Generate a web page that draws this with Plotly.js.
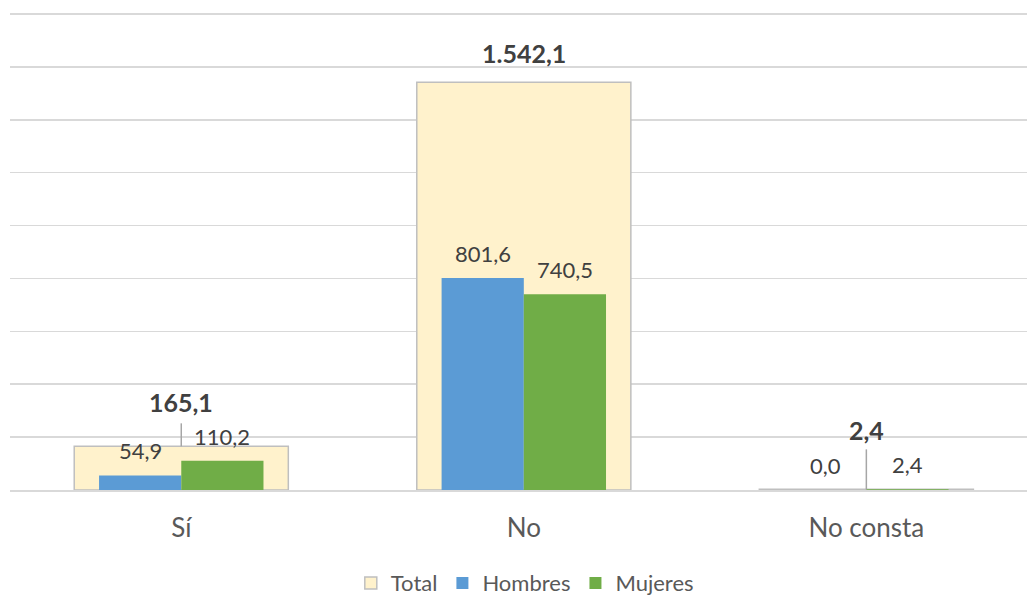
<!DOCTYPE html>
<html>
<head>
<meta charset="utf-8">
<script src="https://cdn.plot.ly/plotly-3.0.1.min.js"></script>
<style>html,body{margin:0;padding:0;background:#fff;}#chart{width:1027px;height:595px;}</style>
</head>
<body>
<div id="chart"></div>
<script>
// Data
const categories = ["Sí", "No", "No consta"];
const total = [165.1, 1542.1, 2.4];
const hombres = [54.9, 801.6, 0.0];
const mujeres = [110.2, 740.5, 2.4];

// Styles (label offsets in pixels, leader line lengths)
const totalLabelShift = [27, 12, 42];
const leaderLen = [23, 0, 40];
const FONT = "Lato, 'Noto Sans', sans-serif";

function fmt(v) {
  const parts = v.toFixed(1).split(".");
  const intPart = parts[0].replace(/\B(?=(\d{3})+(?!\d))/g, ".");
  return intPart + "," + parts[1];
}

const BW_T = 0.625, BW = 0.24;

const traces = [
  {type: "bar", name: "Total", x: categories, y: total, width: BW_T, offset: -BW_T/2,
   marker: {color: "#fff2cc", line: {color: "#bfbfbf", width: 1.5}}, hoverinfo: "skip"},
  {type: "bar", name: "Hombres", x: categories, y: hombres, width: BW, offset: -BW,
   marker: {color: "#5b9bd5", line: {width: 0}}, hoverinfo: "skip"},
  {type: "bar", name: "Mujeres", x: categories, y: mujeres, width: BW, offset: 0,
   marker: {color: "#70ad47", line: {width: 0}}, hoverinfo: "skip"}
];

const annotations = [];
const shapes = [];
categories.forEach((c, i) => {
  annotations.push({x: i, y: total[i], xref: "x", yref: "y", text: "<b>" + fmt(total[i]) + "</b>",
    showarrow: false, yanchor: "bottom", yshift: totalLabelShift[i],
    font: {family: FONT, size: 25, color: "#404040"}});
  annotations.push({x: i - BW/2, y: hombres[i], xref: "x", yref: "y", text: fmt(hombres[i]),
    showarrow: false, yanchor: "bottom", yshift: 9,
    font: {family: FONT, size: 22, color: "#404040"}});
  annotations.push({x: i + BW/2, y: mujeres[i], xref: "x", yref: "y", text: fmt(mujeres[i]),
    showarrow: false, yanchor: "bottom", yshift: 9,
    font: {family: FONT, size: 22, color: "#404040"}});
  if (leaderLen[i] > 0) {
    shapes.push({type: "line", xref: "x", yref: "y", x0: i, x1: i,
      ysizemode: "pixel", yanchor: total[i], y0: 0, y1: leaderLen[i],
      line: {color: "#a6a6a6", width: 1.5}});
  }
});

const layout = {
  width: 1027, height: 595,
  margin: {l: 10, r: 0, t: 10, b: 105, autoexpand: false},
  paper_bgcolor: "#ffffff", plot_bgcolor: "#ffffff",
  barmode: "overlay",
  showlegend: true,
  legend: {orientation: "h", x: 0.511, xanchor: "center", xref: "container",
    y: 0.02, yanchor: "middle", yref: "container",
    font: {family: FONT, size: 22, color: "#595959"}, traceorder: "normal",
    itemwidth: 30},
  xaxis: {type: "category", range: [-0.5, 2.469], showgrid: false, zeroline: false,
    showline: true, linecolor: "#d9d9d9", linewidth: 1.5, automargin: false,
    ticks: "outside", ticklen: 14, tickcolor: "rgba(0,0,0,0)",
    tickfont: {family: FONT, size: 26, color: "#595959"}, fixedrange: true},
  yaxis: {range: [0, 1815], dtick: 200, tick0: 0, showticklabels: false, automargin: false,
    showgrid: true, gridcolor: "#d9d9d9", gridwidth: 1.5, zeroline: false,
    showline: false, fixedrange: true},
  annotations: annotations,
  shapes: shapes
};

Plotly.newPlot("chart", traces, layout, {displayModeBar: false, staticPlot: true});
</script>
</body>
</html>
